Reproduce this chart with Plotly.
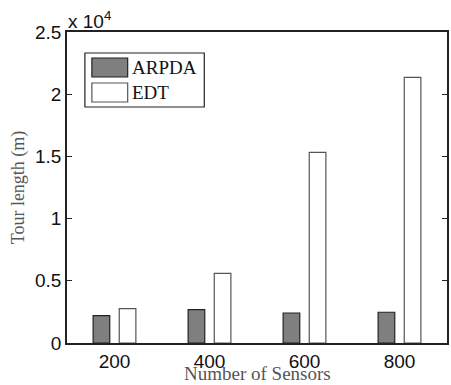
import plotly.graph_objects as go

sensors = [200, 400, 600, 800]
arpda = [2200, 2680, 2410, 2470]
edt = [2760, 5600, 15330, 21360]
series_names = ["ARPDA", "EDT"]
ytick_vals = [0, 5000, 10000, 15000, 20000, 25000]
ytick_text = ["0", "0.5", "1", "1.5", "2", "2.5"]

W, H = 451, 385
L, R, T, B = 67, 2, 32, 42
PW, PH = W - L - R, H - T - B


def px(x):
    return (x - L) / PW


def py(y):
    return 1 - (y - T) / PH


fig = go.Figure()
fig.add_trace(go.Bar(x=sensors, y=arpda, name=series_names[0], width=35, offset=-45,
                     marker=dict(color="#7f7f7f", line=dict(color="#222222", width=1.2)),
                     showlegend=False))
fig.add_trace(go.Bar(x=sensors, y=edt, name=series_names[1], width=35, offset=10,
                     marker=dict(color="#ffffff", line=dict(color="#555555", width=1.2)),
                     showlegend=False))

axis_font = dict(family="Liberation Sans, Arial, sans-serif", size=19, color="#111111")
serif = "Liberation Serif, Times New Roman, serif"

fig.update_layout(
    width=W, height=H,
    margin=dict(l=L, r=R, t=T, b=B),
    paper_bgcolor="white", plot_bgcolor="white",
    barmode="overlay",
    xaxis=dict(range=[100, 900], tickvals=sensors, ticktext=[str(s) for s in sensors],
               ticks="", showgrid=False, zeroline=False, showline=True, linecolor="#222222",
               linewidth=1.5, mirror=True, tickfont=axis_font),
    yaxis=dict(range=[0, 25000], tickvals=ytick_vals, ticktext=ytick_text,
               ticks="inside", ticklen=5, tickcolor="#222222", showgrid=False, zeroline=False,
               showline=True, linecolor="#222222", linewidth=1.5, mirror="ticks",
               tickfont=axis_font,
               title=dict(text="Tour length (m)", font=dict(family=serif, size=18, color="#555555"), standoff=6)),
    showlegend=False,
)

# x-axis title
fig.add_annotation(xref="paper", yref="paper", x=px(259), y=py(374), xanchor="center", yanchor="middle",
                   text="Number of Sensors", showarrow=False,
                   font=dict(family=serif, size=19, color="#555555"))

# exponent label
fig.add_annotation(xref="paper", yref="paper", x=px(66), y=py(34), xanchor="left", yanchor="bottom",
                   text="x 10<sup>4</sup>", showarrow=False, font=axis_font)

# legend box
fig.add_shape(type="rect", xref="paper", yref="paper", x0=px(85), x1=px(205), y0=py(53), y1=py(107),
              line=dict(color="#222222", width=1.2), fillcolor="white")
fig.add_shape(type="rect", xref="paper", yref="paper", x0=px(92), x1=px(128), y0=py(58), y1=py(77),
              line=dict(color="#222222", width=1.2), fillcolor="#7f7f7f")
fig.add_shape(type="rect", xref="paper", yref="paper", x0=px(92), x1=px(128), y0=py(83), y1=py(102),
              line=dict(color="#555555", width=1.2), fillcolor="white")
leg_font = dict(family=serif, size=19, color="#111111")
fig.add_annotation(xref="paper", yref="paper", x=px(130), y=py(67.5), xanchor="left", yanchor="middle",
                   text=series_names[0], showarrow=False, font=leg_font)
fig.add_annotation(xref="paper", yref="paper", x=px(130), y=py(92.5), xanchor="left", yanchor="middle",
                   text=series_names[1], showarrow=False, font=leg_font)

fig.write_html("out.html")
